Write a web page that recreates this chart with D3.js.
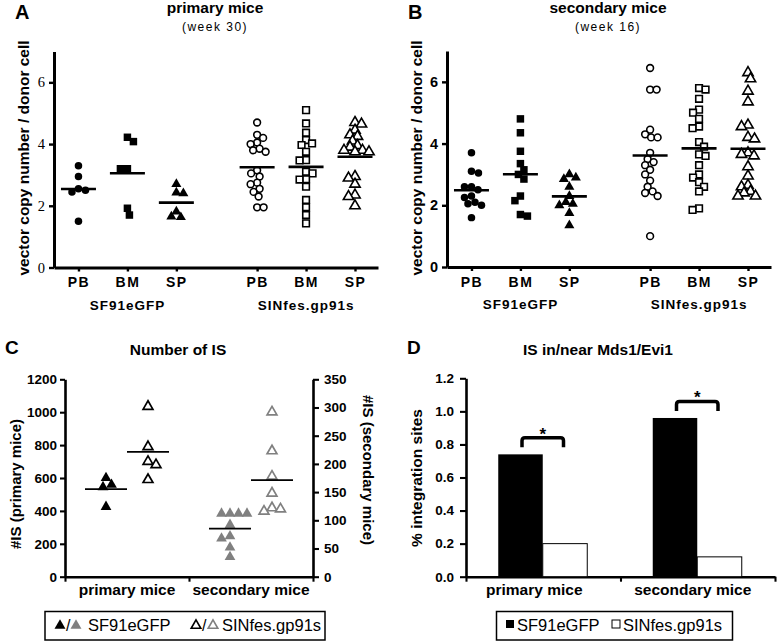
<!DOCTYPE html>
<html><head><meta charset="utf-8">
<script src="https://cdn.jsdelivr.net/npm/d3@7"></script>
<style>body{margin:0;background:#fff}svg{display:block}</style>
</head><body>
<svg id="c" width="777" height="641"></svg>
<script>
// ---------------- DATA ----------------
const tissues = ["PB", "BM", "SP"];
const vectors = ["SF91eGFP", "SINfes.gp91s"];
const vcnTicks = [0, 2, 4, 6];

// Panel A: primary mice (week 30) – vector copy number / donor cell
const primSF91PB = [3.3, 2.95, 2.5, 2.45, 2.55, 1.5];
const primSF91BM = [4.22, 4.08, 3.2, 3.2, 1.92, 1.7];
const primSF91SP = [2.7, 2.43, 2.4, 1.81, 1.63, 1.65];
const primSINPB = [4.7, 4.3, 4.2, 4.0, 4.05, 3.8, 3.85, 3.75, 3.15, 3.05, 2.95, 2.75, 2.7, 2.55, 2.45, 2.3, 1.95, 1.95];
const primSINBM = [5.1, 4.67, 4.37, 4.13, 4.02, 3.97, 3.75, 3.48, 3.47, 3.1, 3.05, 2.86, 2.85, 2.62, 2.19, 1.95, 1.7, 1.43];
const primSINSP = [4.7, 4.65, 4.45, 4.3, 4.25, 4.1, 3.95, 3.9, 3.75, 3.75, 3.8, 3.8, 2.95, 2.9, 2.7, 2.35, 2.3, 2.0];

// Panel B: secondary mice (week 16)
const secSF91PB = [3.7, 3.1, 3.05, 2.6, 2.6, 2.5, 2.3, 2.25, 2.1, 2.05, 2.0, 1.6];
const secSF91BM = [4.8, 4.35, 3.75, 3.35, 3.15, 3.0, 2.85, 2.3, 2.15, 1.7, 1.65];
const secSF91SP = [3.0, 2.9, 2.85, 2.6, 2.3, 2.1, 2.05, 2.0, 1.75, 1.35];
const secSINPB = [6.45, 5.75, 5.75, 4.45, 4.3, 4.2, 4.2, 3.7, 3.5, 3.4, 3.3, 3.15, 3.0, 2.8, 2.6, 2.45, 2.4, 2.3, 1.0];
const secSINBM = [5.8, 5.75, 5.45, 5.1, 5.0, 4.8, 4.55, 4.5, 4.05, 3.9, 3.65, 3.6, 3.3, 3.0, 2.9, 2.75, 2.6, 2.45, 1.9, 1.85];
const secSINSP = [6.3, 6.1, 5.7, 5.35, 4.6, 4.55, 4.2, 4.15, 3.7, 3.65, 3.6, 3.25, 2.95, 2.65, 2.6, 2.45, 2.4, 2.3, 2.3];

// Panel C: number of IS
const cohorts = ["primary mice", "secondary mice"];
const isPrimSF91 = [600, 560, 545, 425];
const isPrimSIN = [1035, 790, 700, 680, 590];
const isSecSF91 = [112, 112, 112, 112, 92, 72, 68, 52, 35];
const isSecSIN = [292, 223, 178, 148, 120, 116, 122];
const isPrimTicks = [0, 200, 400, 600, 800, 1000, 1200];
const isSecTicks = [0, 50, 100, 150, 200, 250, 300, 350];

// Panel D: % integration sites in/near Mds1/Evi1
const mdsSF91 = [0.74, 0.96];
const mdsSIN = [0.2, 0.12];
const mdsTicks = [0, 0.2, 0.4, 0.6, 0.8, 1.0, 1.2];

// ---------------- DRAWING ----------------
const svg = d3.select("#c");
const sans = '"Liberation Sans", Arial, Helvetica, sans-serif';
const serif = '"Liberation Serif", "Times New Roman", serif';
const GRAY = "#808080";

function swarm(vals, y, cx, diam) {
  const pts = vals.map(v => ({ v, py: y(v) })).sort((a, b) => a.py - b.py);
  const placed = [];
  let sum = 0;
  pts.forEach(p => {
    let chosen = 0;
    outer: for (let k = 0; k < 200; k += 0.5) {
      const cands = k === 0 ? [0] : (sum > 0 ? [-k, k] : [k, -k]);
      for (const o of cands) {
        if (placed.every(q => (q.off - o) ** 2 + (q.py - p.py) ** 2 >= diam * diam)) { chosen = o; break outer; }
      }
    }
    p.off = chosen; sum += chosen; placed.push(p);
  });
  return pts.map(p => ({ v: p.v, x: cx + p.off, y: p.py }));
}

function styleAxis(g, w) {
  g.select(".domain").attr("stroke", "#000").attr("stroke-width", w);
  g.selectAll(".tick line").attr("stroke", "#000").attr("stroke-width", w * 0.8);
}

function vcnPanel(o) {
  const g = svg.append("g");
  const y = d3.scaleLinear().domain([0, 7]).range([o.y0, o.y0 - 216]);
  const x = d3.scaleLinear().domain([0.5, 7.12]).range([o.ax, o.ax + 324]);
  const slots = [1, 2, 3, 4.65, 5.65, 6.65];

  const ya = g.append("g").attr("transform", `translate(${o.ax},0)`)
    .call(d3.axisLeft(y).tickValues(vcnTicks).tickSize(5).tickSizeOuter(0).tickPadding(4).tickFormat(d3.format("d")));
  styleAxis(ya, 3);
  ya.selectAll(".tick text").attr("font-family", o.tickFont).attr("font-size", 14.5)
    .attr("font-weight", o.tickWeight).attr("fill", "#000");

  const xa = g.append("g").attr("transform", `translate(0,${o.y0})`)
    .call(d3.axisBottom(x).tickValues(slots).tickSize(4).tickSizeOuter(0).tickPadding(6)
      .tickFormat((d, i) => tissues[i % 3]));
  styleAxis(xa, 3);
  xa.selectAll(".tick text").attr("font-family", sans).attr("font-size", 14).attr("font-weight", "bold")
    .attr("letter-spacing", "1.5px").attr("fill", "#000");

  [x(2), x(5.65)].forEach((cx, i) => {
    g.append("text").attr("x", cx).attr("y", o.y0 + 42).attr("text-anchor", "middle")
      .attr("font-family", sans).attr("font-size", 13.5).attr("font-weight", "bold").attr("letter-spacing", "1px")
      .text(vectors[i]);
  });

  const shapes = [d3.symbolCircle, d3.symbolSquare, d3.symbolTriangle];
  const sizesF = [44, 56, 44];
  const sizesO = [36, 44, 46];
  o.series.forEach((vals, i) => {
    const cx = x(slots[i]);
    const open = i >= 3;
    const pts = swarm(vals, y, cx, open ? 6.5 : 7);
    g.append("g").selectAll("path").data(pts).join("path")
      .attr("transform", d => `translate(${d.x},${d.y})`)
      .attr("d", d3.symbol(shapes[i % 3], open ? sizesO[i % 3] : sizesF[i % 3]))
      .attr("fill", open ? "#fff" : "#000").attr("stroke", "#000").attr("stroke-width", open ? 1.6 : 0);
    const m = d3.mean(vals);
    g.append("line").attr("x1", cx - 17.5).attr("x2", cx + 17.5).attr("y1", y(m)).attr("y2", y(m))
      .attr("stroke", "#000").attr("stroke-width", 2.6);
  });

  g.append("text").attr("x", o.ax - 39).attr("y", 19).attr("font-family", sans).attr("font-size", 20)
    .attr("font-weight", "bold").text(o.letter);
  g.append("text").attr("x", o.ax + 161).attr("y", 13).attr("text-anchor", "middle").attr("font-family", sans)
    .attr("font-size", 15.5).attr("font-weight", "bold").text(o.title);
  g.append("text").attr("x", o.ax + 161).attr("y", 31).attr("text-anchor", "middle").attr("font-family", sans)
    .attr("font-size", 12).attr("letter-spacing", "1.5px").text(o.sub);
  g.append("text").attr("transform", `translate(${o.ax - 25},158) rotate(-90)`).attr("text-anchor", "middle")
    .attr("font-family", sans).attr("font-size", 15.5).attr("font-weight", "bold")
    .text("vector copy number / donor cell");
}

vcnPanel({ ax: 54, y0: 267.5, letter: "A", title: "primary mice", sub: "(week 30)",
  tickFont: serif, tickWeight: "normal",
  series: [primSF91PB, primSF91BM, primSF91SP, primSINPB, primSINBM, primSINSP] });
vcnPanel({ ax: 447, y0: 267, letter: "B", title: "secondary mice", sub: "(week 16)",
  tickFont: sans, tickWeight: "bold",
  series: [secSF91PB, secSF91BM, secSF91SP, secSINPB, secSINBM, secSINSP] });

// ---------- Panel C ----------
(function () {
  const g = svg.append("g");
  const yP = d3.scaleLinear().domain([0, 1200]).range([576.7, 379.3]);
  const yS = d3.scaleLinear().domain([0, 350]).range([576.7, 379.3]);
  const xC = d3.scaleBand().domain(cohorts).range([65, 313]);

  const la = g.append("g").attr("transform", "translate(65,0)")
    .call(d3.axisLeft(yP).tickValues(isPrimTicks).tickSize(5).tickSizeOuter(0).tickPadding(3).tickFormat(d3.format("d")));
  styleAxis(la, 2.6);
  const ra = g.append("g").attr("transform", "translate(313,0)")
    .call(d3.axisRight(yS).tickValues(isSecTicks).tickSize(6).tickSizeOuter(0).tickPadding(5).tickFormat(d3.format("d")));
  styleAxis(ra, 2.6);
  [la, ra].forEach(a => a.selectAll(".tick text").attr("font-family", sans).attr("font-size", 13.5)
    .attr("font-weight", "bold").attr("fill", "#000"));

  const xa = g.append("g").attr("transform", "translate(0,576.7)")
    .call(d3.axisBottom(d3.scaleLinear().domain([0, 2]).range([65, 313])).tickValues([0, 1, 2])
      .tickSize(5).tickSizeOuter(0).tickFormat(""));
  styleAxis(xa, 2.6);
  cohorts.forEach(c => {
    g.append("text").attr("x", xC(c) + xC.bandwidth() / 2).attr("y", 595).attr("text-anchor", "middle")
      .attr("font-family", sans).attr("font-size", 15.5).attr("font-weight", "bold").text(c);
  });

  const groups = [
    { vals: isPrimSF91, y: yP, c: cohorts[0], dx: -21, fill: "#000", stroke: "#000" },
    { vals: isPrimSIN, y: yP, c: cohorts[0], dx: 21, fill: "#fff", stroke: "#000" },
    { vals: isSecSF91, y: yS, c: cohorts[1], dx: -21, fill: GRAY, stroke: GRAY },
    { vals: isSecSIN, y: yS, c: cohorts[1], dx: 21, fill: "#fff", stroke: GRAY }
  ];
  groups.forEach(s => {
    const cx = xC(s.c) + xC.bandwidth() / 2 + s.dx;
    const pts = swarm(s.vals, s.y, cx, 8.5);
    const open = s.fill === "#fff";
    g.append("g").selectAll("path").data(pts).join("path")
      .attr("transform", d => `translate(${d.x},${d.y})`)
      .attr("d", d3.symbol(d3.symbolTriangle, open ? 42 : 50))
      .attr("fill", s.fill).attr("stroke", s.stroke).attr("stroke-width", open ? 1.7 : 0);
    const m = d3.mean(s.vals);
    g.append("line").attr("x1", cx - 21).attr("x2", cx + 21).attr("y1", s.y(m)).attr("y2", s.y(m))
      .attr("stroke", "#000").attr("stroke-width", 1.8);
  });

  g.append("text").attr("x", 5).attr("y", 354).attr("font-family", sans).attr("font-size", 19)
    .attr("font-weight", "bold").text("C");
  g.append("text").attr("x", 178).attr("y", 355).attr("text-anchor", "middle").attr("font-family", sans)
    .attr("font-size", 15.5).attr("font-weight", "bold").text("Number of IS");
  g.append("text").attr("transform", "translate(21,484) rotate(-90)").attr("text-anchor", "middle")
    .attr("font-family", sans).attr("font-size", 15).attr("font-weight", "bold").text("#IS (primary mice)");
  g.append("text").attr("transform", "translate(363,470) rotate(90)").attr("text-anchor", "middle")
    .attr("font-family", sans).attr("font-size", 15).attr("font-weight", "bold").text("#IS (secondary mice)");

  // legend
  const lg = g.append("g");
  lg.append("rect").attr("x", 45).attr("y", 611.5).attr("width", 280).attr("height", 28.5)
    .attr("fill", "#fff").attr("stroke", "#000").attr("stroke-width", 1.5);
  const tri = (x, fill, stroke, open) => lg.append("path").attr("transform", `translate(${x},625.5)`)
    .attr("d", d3.symbol(d3.symbolTriangle, open ? 40 : 52)).attr("fill", fill).attr("stroke", stroke)
    .attr("stroke-width", open ? 1.6 : 0);
  tri(60, "#000", "#000", false);
  lg.append("text").attr("x", 66).attr("y", 630.5).attr("font-family", sans).attr("font-size", 16).text("/");
  tri(76, GRAY, GRAY, false);
  lg.append("text").attr("x", 88).attr("y", 630.5).attr("font-family", sans).attr("font-size", 16.5).text(vectors[0]);
  tri(196, "#fff", "#000", true);
  lg.append("text").attr("x", 202).attr("y", 630.5).attr("font-family", sans).attr("font-size", 16).text("/");
  tri(213, "#fff", GRAY, true);
  lg.append("text").attr("x", 222).attr("y", 630.5).attr("font-family", sans).attr("font-size", 16.5).text(vectors[1]);
})();

// ---------- Panel D ----------
(function () {
  const g = svg.append("g");
  const y = d3.scaleLinear().domain([0, 1.2]).range([576.7, 378.3]);
  const xD = d3.scaleBand().domain(cohorts).range([466, 775]);
  const ya = g.append("g").attr("transform", "translate(466,0)")
    .call(d3.axisLeft(y).tickValues(mdsTicks).tickSize(6).tickSizeOuter(0).tickPadding(6).tickFormat(d3.format(".1f")));
  styleAxis(ya, 2.6);
  ya.selectAll(".tick text").attr("font-family", sans).attr("font-size", 13.5).attr("font-weight", "bold").attr("fill", "#000");
  const xa = g.append("g").attr("transform", "translate(0,576.7)")
    .call(d3.axisBottom(d3.scaleLinear().domain([0, 2]).range([466, 775])).tickValues([0, 1, 2])
      .tickSize(5).tickSizeOuter(0).tickFormat(""));
  styleAxis(xa, 2.6);

  const bw = 44.5;
  cohorts.forEach((c, i) => {
    const cx = xD(c) + xD.bandwidth() / 2 - 0.5;
    g.append("rect").attr("x", cx - bw).attr("y", y(mdsSF91[i])).attr("width", bw)
      .attr("height", y(0) - y(mdsSF91[i])).attr("fill", "#000");
    g.append("rect").attr("x", cx).attr("y", y(mdsSIN[i])).attr("width", bw)
      .attr("height", y(0) - y(mdsSIN[i])).attr("fill", "#fff").attr("stroke", "#000").attr("stroke-width", 1);
    const top = y(Math.max(mdsSF91[i], mdsSIN[i])) - 16.5;
    const x1 = cx - bw / 2 + 1.5, x2 = cx + bw / 2 - 1.5, r = 3;
    g.append("path").attr("d", `M${x1},${top + 9.5}V${top + r}Q${x1},${top} ${x1 + r},${top}H${x2 - r}Q${x2},${top} ${x2},${top + r}V${top + 9.5}`)
      .attr("fill", "none").attr("stroke", "#000").attr("stroke-width", 3.5);
    g.append("text").attr("x", cx).attr("y", top + 2).attr("text-anchor", "middle").attr("font-family", sans)
      .attr("font-size", 17).attr("font-weight", "bold").text("*");
    g.append("text").attr("x", xD(c) + xD.bandwidth() / 2 - 9 + i * 4).attr("y", 595).attr("text-anchor", "middle")
      .attr("font-family", sans).attr("font-size", 15.5).attr("font-weight", "bold").text(c);
  });

  g.append("text").attr("x", 407).attr("y", 354).attr("font-family", sans).attr("font-size", 19)
    .attr("font-weight", "bold").text("D");
  g.append("text").attr("x", 598).attr("y", 355).attr("text-anchor", "middle").attr("font-family", sans)
    .attr("font-size", 15.5).attr("font-weight", "bold").text("IS in/near Mds1/Evi1");
  g.append("text").attr("transform", "translate(422,478) rotate(-90)").attr("text-anchor", "middle")
    .attr("font-family", sans).attr("font-size", 15.5).attr("font-weight", "bold").text("% integration sites");

  const lg = g.append("g");
  lg.append("rect").attr("x", 496.5).attr("y", 611.5).attr("width", 236).attr("height", 28.5)
    .attr("fill", "#fff").attr("stroke", "#000").attr("stroke-width", 1.5);
  lg.append("rect").attr("x", 506).attr("y", 620).attr("width", 8).attr("height", 8).attr("fill", "#000");
  lg.append("text").attr("x", 517).attr("y", 630.5).attr("font-family", sans).attr("font-size", 16.5).text(vectors[0]);
  lg.append("rect").attr("x", 612).attr("y", 620).attr("width", 8).attr("height", 8).attr("fill", "#fff")
    .attr("stroke", "#000").attr("stroke-width", 1);
  lg.append("text").attr("x", 623).attr("y", 630.5).attr("font-family", sans).attr("font-size", 16.5).text(vectors[1]);
})();
</script>
</body></html>
